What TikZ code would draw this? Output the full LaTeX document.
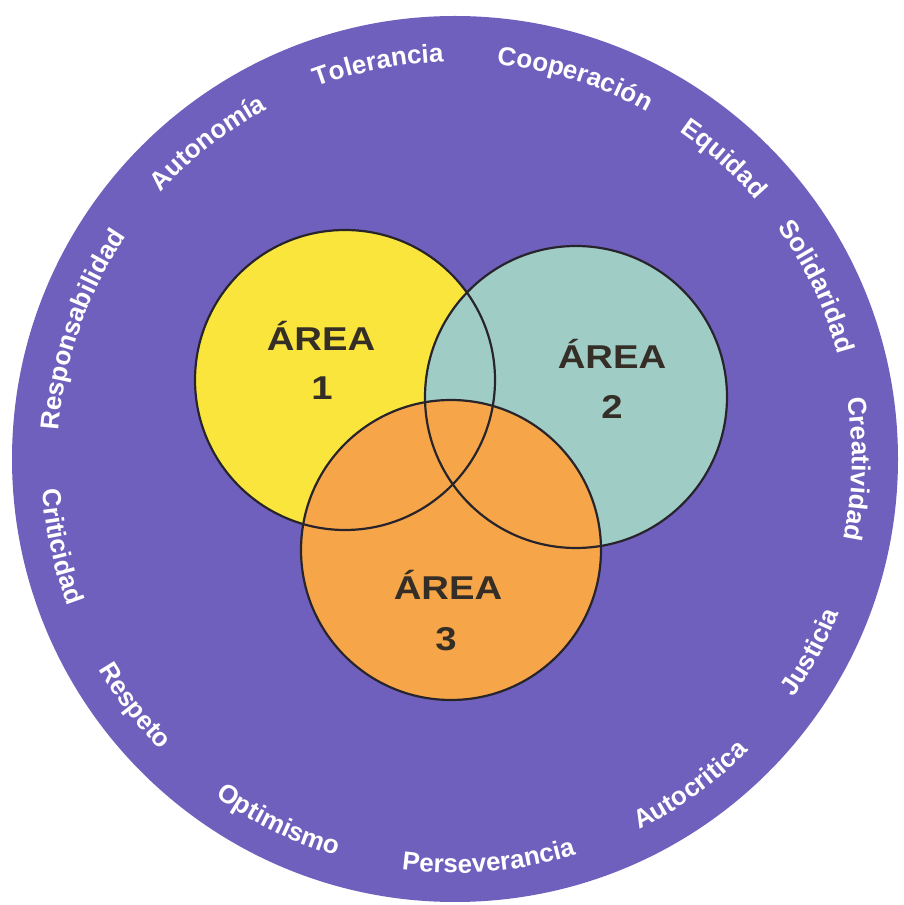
\documentclass[tikz,border=0pt]{standalone}
\usepackage{fontspec}
\setmainfont{Liberation Sans}
\usetikzlibrary{decorations.text}
\definecolor{ringpurple}{RGB}{112,96,190}
\definecolor{venyellow}{RGB}{250,229,60}
\definecolor{venteal}{RGB}{160,204,198}
\definecolor{venorange}{RGB}{246,166,72}
\definecolor{venline}{RGB}{40,36,44}
\definecolor{areatext}{RGB}{52,46,38}
\newcommand\ringfont{\fontsize{26}{26}\selectfont\bfseries\color{white}}
\tikzset{
  venn/.style={draw=venline, line width=2.2pt},
  areafont/.style={font=\fontsize{33}{33}\selectfont\bfseries, text=areatext, xscale=1.16, inner sep=0pt},
  topword/.style={decorate, decoration={text along path, text align=center, text={|\ringfont|#1}}},
  botword/.style={decorate, decoration={text along path, text align=center, text={|\ringfont|#1}}}
}
\begin{document}
\begin{tikzpicture}[x=1pt,y=1pt]
\useasboundingbox (0,0) rectangle (903,905);
\fill[white] (0,0) rectangle (903,905);
\coordinate (C) at (455,446);
\fill[ringpurple] (C) circle[radius=443];
% Venn circles
\fill[venyellow] (345,525) circle[radius=150];
\fill[venteal] (576,508) circle[radius=151];
\fill[venorange] (451,355) circle[radius=150];
\draw[venn] (345,525) circle[radius=150];
\draw[venn] (576,508) circle[radius=151];
\draw[venn] (451,355) circle[radius=150];
% area labels
\node[areafont, anchor=base] (a1t) at (321,554) {ÁREA};
\node[areafont, anchor=base] (a1n) at (322,505) {1};
\node[areafont, anchor=base] (a2t) at (612,536) {ÁREA};
\node[areafont, anchor=base] (a2n) at (612,486) {2};
\node[areafont, anchor=base] (a3t) at (448,305) {ÁREA};
\node[areafont, anchor=base] (a3n) at (446,254) {3};
% ring words
\begin{scope}[shift={(455,446)}]
\path[topword=Responsabilidad] (190.9:397) arc[start angle=190.9, end angle=130.9, radius=397];
\path[topword=Autonomía] (158:397) arc[start angle=158, end angle=98, radius=397];
\path[topword=Tolerancia] (131:397) arc[start angle=131, end angle=71, radius=397];
\path[topword=Cooperación] (102.5:397) arc[start angle=102.5, end angle=42.5, radius=397];
\path[topword=Equidad] (78.1:397) arc[start angle=78.1, end angle=18.1, radius=397];
\path[topword=Solidaridad] (55.5:397) arc[start angle=55.5, end angle=-4.5, radius=397];
\path[topword=Creatividad] (28.6:397) arc[start angle=28.6, end angle=-31.4, radius=397];
\path[botword=Criticidad] (-197.5:414) arc[start angle=-197.5, end angle=-137.5, radius=414];
\path[botword=Respeto] (-172.4:414) arc[start angle=-172.4, end angle=-112.4, radius=414];
\path[botword=Optimismo] (-146:414) arc[start angle=-146, end angle=-86, radius=414];
\path[botword=Perseverancia] (-115.2:414) arc[start angle=-115.2, end angle=-55.2, radius=414];
\path[botword=Autocritica] (-84.2:414) arc[start angle=-84.2, end angle=-24.2, radius=414];
\path[botword=Justicia] (-58.5:414) arc[start angle=-58.5, end angle=1.5, radius=414];
\end{scope}
\end{tikzpicture}
\end{document}
